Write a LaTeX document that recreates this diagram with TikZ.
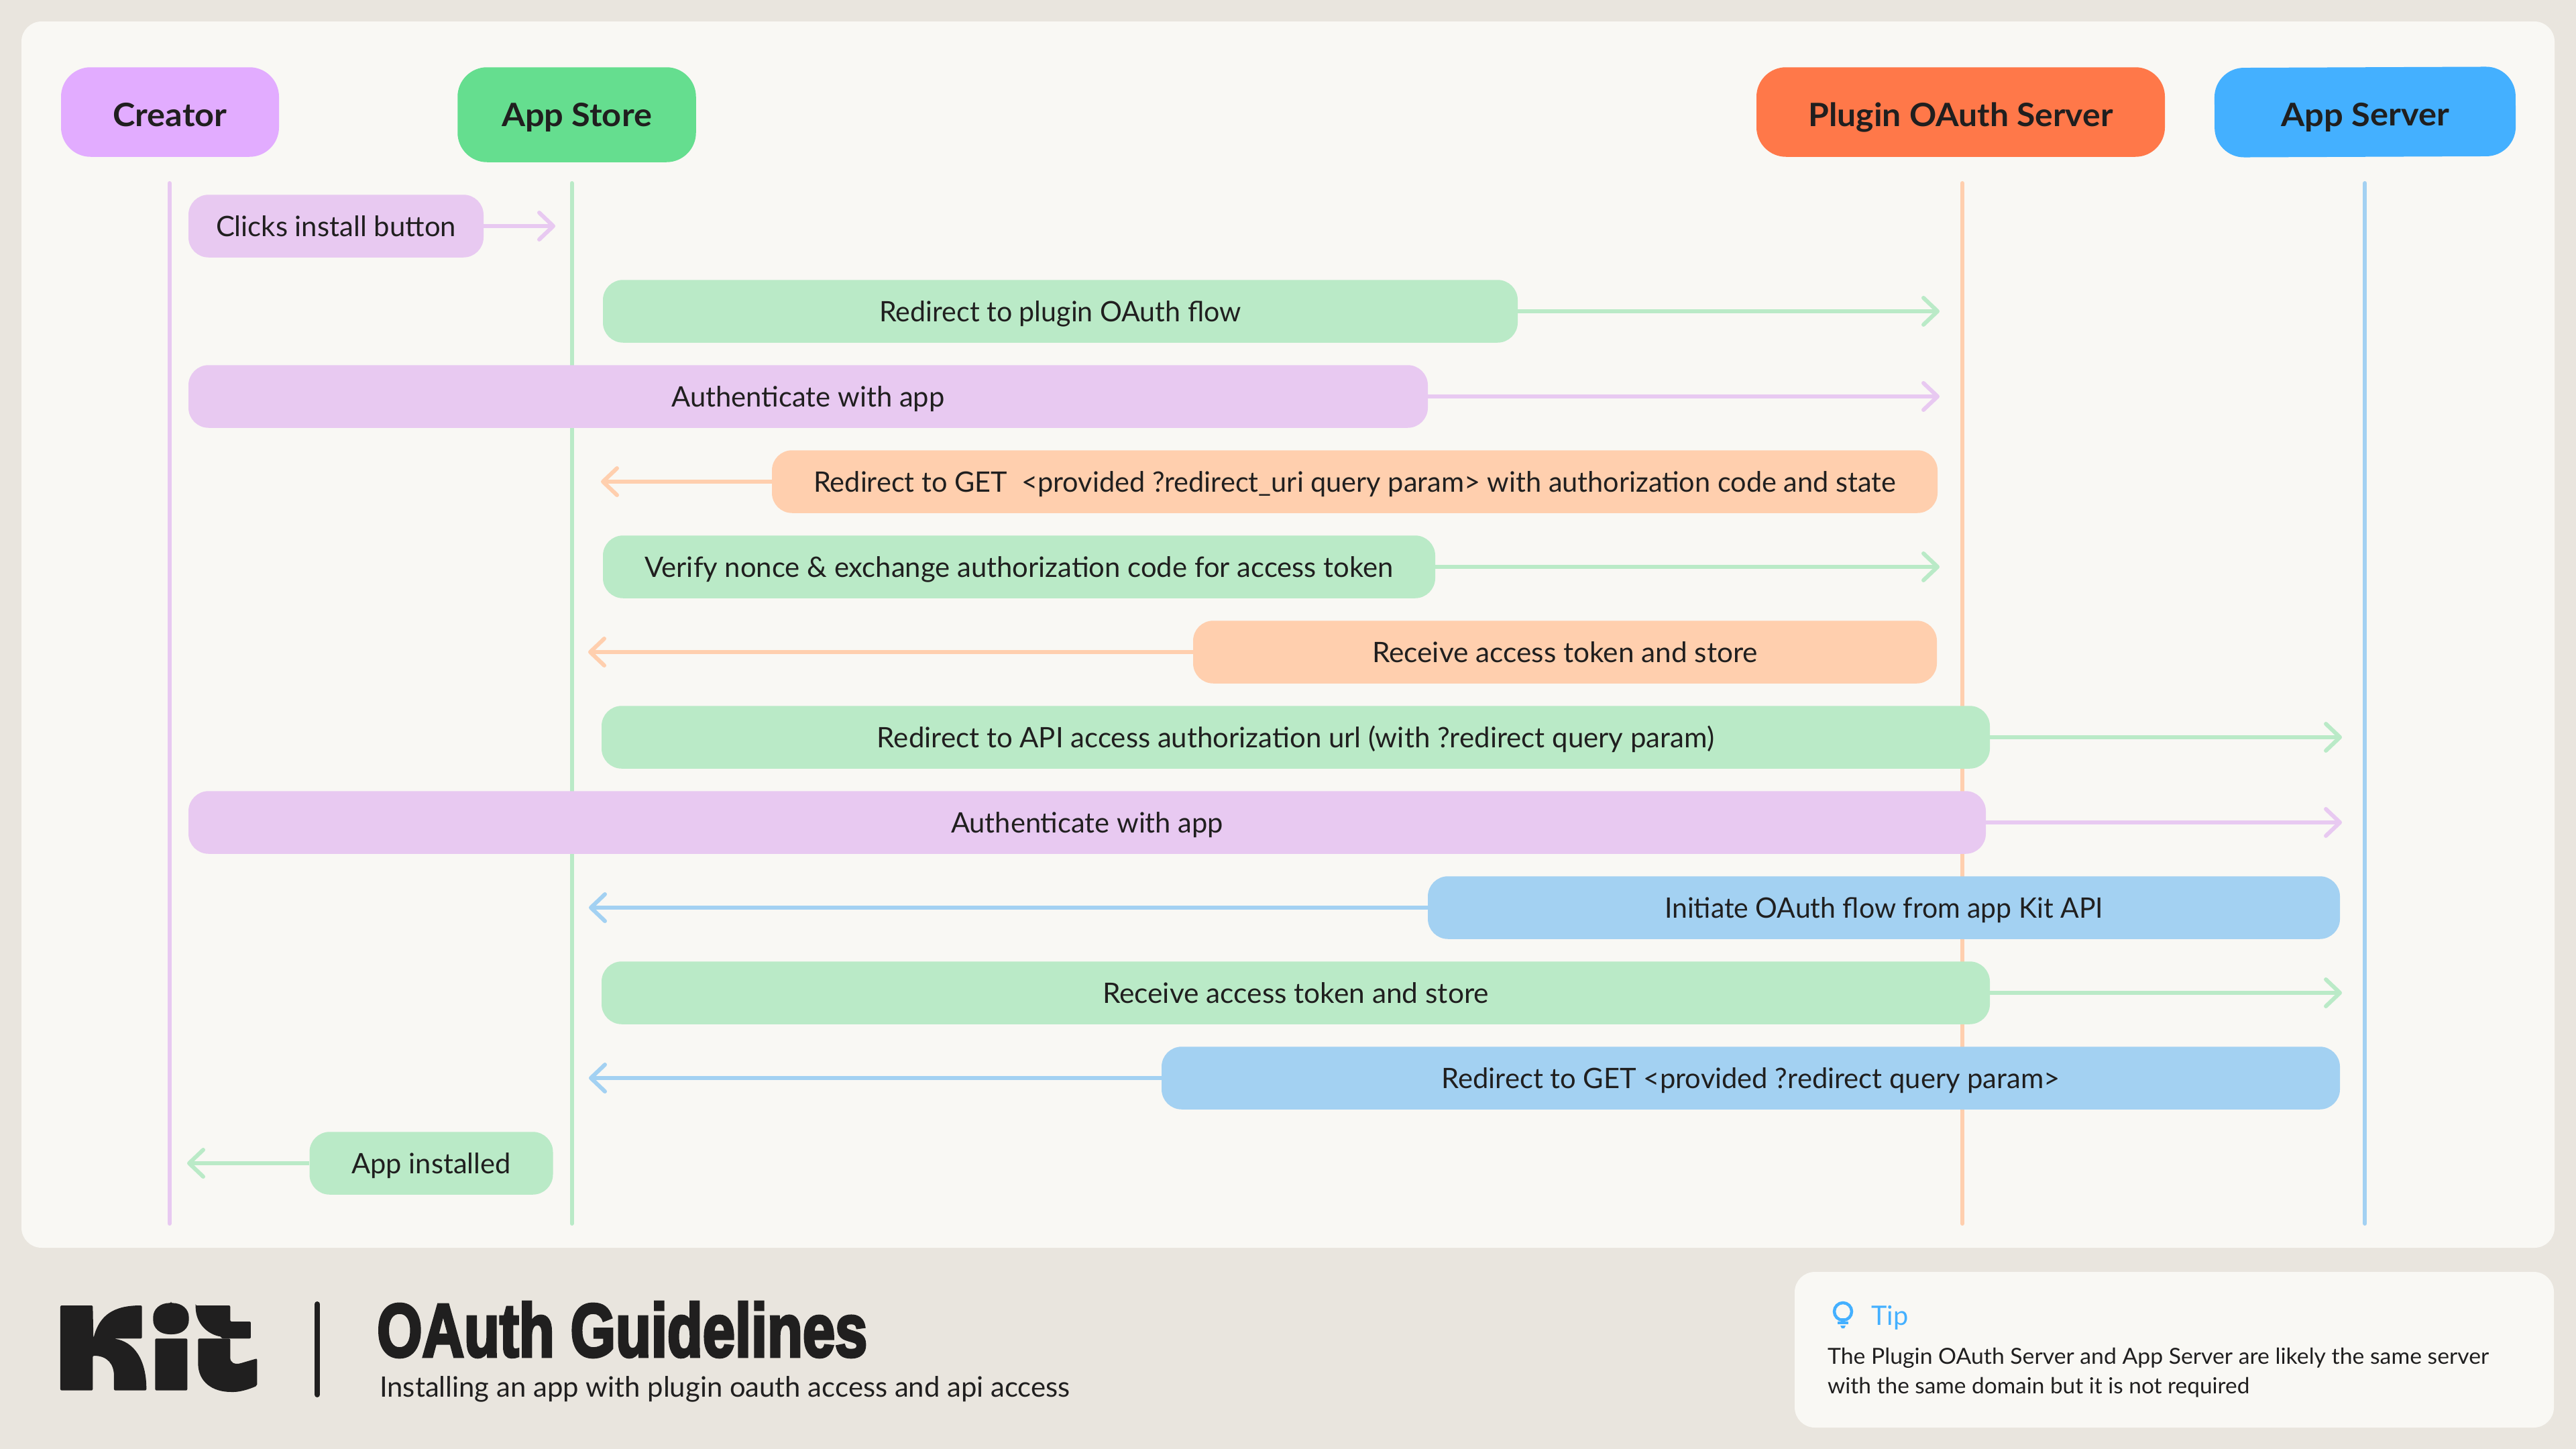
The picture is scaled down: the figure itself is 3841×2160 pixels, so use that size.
\documentclass[tikz,border=0pt]{standalone}
\usepackage{fontspec}
\usepackage{graphicx}
\usetikzlibrary{arrows.meta}
\setmainfont{Lato}
\newfontfamily\titlefont[UprightFont=* Bold,FakeBold=4]{Liberation Sans}
\definecolor{pagebg}{HTML}{E9E5DE}
\definecolor{panelbg}{HTML}{F9F8F4}
\definecolor{ink}{HTML}{201F1F}
\definecolor{hPurple}{HTML}{E2ACFF}
\definecolor{hGreen}{HTML}{65DE8F}
\definecolor{hOrange}{HTML}{FF7849}
\definecolor{hBlue}{HTML}{44B0FF}
\definecolor{mPurple}{HTML}{E8C9F1}
\definecolor{mGreen}{HTML}{BAEAC7}
\definecolor{mOrange}{HTML}{FFCFAE}
\definecolor{mBlue}{HTML}{A3D1F2}
\newcommand{\fitw}[2]{\resizebox{#1pt}{\height}{#2}}
\tikzset{
  header/.style={rounded corners=44pt,inner sep=0pt,text=ink,minimum height=133.5pt,text height=42pt,text depth=0pt,
    font=\fontsize{48pt}{56pt}\selectfont\bfseries},
  msg/.style={rounded corners=30pt,inner sep=0pt,text=ink,minimum height=93.5pt,text height=30pt,text depth=0pt,
    font=\fontsize{42pt}{50pt}\selectfont},
  lifeline/.style={line width=6pt,line cap=round},
  flow/.style={line width=6pt,-{Straight Barb[round,length=21pt,width=40pt]}},
  plain/.style={inner sep=0pt,text=ink}
}
\begin{document}
\begin{tikzpicture}[x=1pt,y=-1pt]
\useasboundingbox (0,0) rectangle (3841,2160);
\fill[pagebg] (0,0) rectangle (3841,2160);
\fill[panelbg,rounded corners=30pt] (32,32) rectangle (3809,1860);
\fill[panelbg,rounded corners=30pt] (2676,1896) rectangle (3808,2128);

% lifelines
\coordinate (l1a) at (252.8,273); \coordinate (l1b) at (252.8,1824);
\coordinate (l2a) at (852.6,273); \coordinate (l2b) at (852.6,1824);
\coordinate (l3a) at (2926,273);  \coordinate (l3b) at (2926,1824);
\coordinate (l4a) at (3526.4,273);\coordinate (l4b) at (3526.4,1824);
\draw[lifeline,mPurple] (l1a) -- (l1b);
\draw[lifeline,mGreen]  (l2a) -- (l2b);
\draw[lifeline,mOrange] (l3a) -- (l3b);
\draw[lifeline,mBlue]   (l4a) -- (l4b);

% headers
\node[header,fill=hPurple,minimum width=325pt] (creator) at (253.5,167) {\fitw{170}{Creator}};
\node[header,fill=hGreen,minimum width=355.5pt,minimum height=141.5pt,text height=34pt] (store) at (860,171) {\fitw{224}{App Store}};
\node[header,fill=hOrange,minimum width=609pt] (oauth) at (2923.5,167) {\fitw{454}{Plugin OAuth Server}};
\node[header,fill=hBlue,minimum width=449pt,rotate=0.25] (server) at (3526.5,167) {\fitw{251}{App Server}};

% messages
\node[msg,fill=mPurple,minimum width=440pt] (r1) at (501,337) {\fitw{358}{Clicks install button}};
\node[msg,fill=mGreen,minimum width=1364pt] (r2) at (1581,464) {\fitw{539}{Redirect to plugin OAuth flow}};
\node[msg,fill=mPurple,minimum width=1848pt] (r3) at (1205,591) {\fitw{407}{Authenticate with app}};
\node[msg,fill=mOrange,minimum width=1738pt] (r4) at (2020,718) {\fitw{1613.5}{Redirect to GET\ \ <provided ?redirect\_uri query param> with authorization code and state}};
\node[msg,fill=mGreen,minimum width=1241pt] (r5) at (1519.5,845) {\fitw{1116}{Verify nonce \& exchange authorization code for access token}};
\node[msg,fill=mOrange,minimum width=1109pt] (r6) at (2333.5,972) {\fitw{575}{Receive access token and store}};
\node[msg,fill=mGreen,minimum width=2070pt] (r7) at (1932,1099) {\fitw{1248}{Redirect to API access authorization url (with ?redirect query param)}};
\node[msg,fill=mPurple,minimum width=2680pt] (r8) at (1621,1226) {\fitw{406}{Authenticate with app}};
\node[msg,fill=mBlue,minimum width=1360pt] (r9) at (2809,1353) {\fitw{654}{Initiate OAuth flow from app Kit API}};
\node[msg,fill=mGreen,minimum width=2070pt] (r10) at (1932,1480) {\fitw{576}{Receive access token and store}};
\node[msg,fill=mBlue,minimum width=1757pt] (r11) at (2610.5,1607) {\fitw{922}{Redirect to GET <provided ?redirect query param>}};
\node[msg,fill=mGreen,minimum width=363pt] (r12) at (643,1734) {\fitw{237}{App installed}};

% arrow ends
\coordinate (t1) at (828,337);
\coordinate (t2) at (2892,464);
\coordinate (t3) at (2892,591);
\coordinate (t4) at (896,718);
\coordinate (t5) at (2892,845);
\coordinate (t6) at (877,972);
\coordinate (t7) at (3492,1099);
\coordinate (t8) at (3492,1226);
\coordinate (t9) at (878,1353);
\coordinate (t10) at (3492,1480);
\coordinate (t11) at (878,1607);
\coordinate (t12) at (279,1734);
\draw[flow,mPurple] (r1.east) -- (t1);
\draw[flow,mGreen]  (r2.east) -- (t2);
\draw[flow,mPurple] (r3.east) -- (t3);
\draw[flow,mOrange] (r4.west) -- (t4);
\draw[flow,mGreen]  (r5.east) -- (t5);
\draw[flow,mOrange] (r6.west) -- (t6);
\draw[flow,mGreen]  (r7.east) -- (t7);
\draw[flow,mPurple] (r8.east) -- (t8);
\draw[flow,mBlue]   (r9.west) -- (t9);
\draw[flow,mGreen]  (r10.east) -- (t10);
\draw[flow,mBlue]   (r11.west) -- (t11);
\draw[flow,mGreen]  (r12.west) -- (t12);

% Kit logo (drawn in zoomed coordinates)
\begin{scope}[shift={(70,1920)},x=0.3333pt,y=-0.3333pt,fill=ink,rounded corners=2pt]
\fill (60,78) -- (205,78) -- (208,225) .. controls (235,120) and (300,78) .. (425,78) -- (425,226) -- (298,226)
  .. controls (390,240) and (445,320) .. (445,458) -- (300,458) -- (300,400)
  .. controls (300,340) and (270,303) .. (205,303) -- (205,458) -- (60,458) -- cycle;
\fill (555,67) .. controls (605,67) and (635,95) .. (635,137) .. controls (635,180) and (605,207) .. (555,207)
  .. controls (505,207) and (475,180) .. (475,137) .. controls (475,95) and (505,67) .. (555,67) -- cycle;
\fill (484,226) rectangle (628,458);
\fill (665,78) -- (820,78) -- (820,150) -- (912,150) -- (912,226) -- (782,226) -- (782,218)
  .. controls (720,208) and (665,160) .. (665,78) -- cycle;
\fill (676,226) -- (820,226) -- (820,305) .. controls (820,335) and (840,342) .. (865,337) -- (940,315) -- (940,437)
  .. controls (900,455) and (860,465) .. (830,465) .. controls (740,465) and (676,420) .. (676,330) -- cycle;
\end{scope}
\draw[ink,line width=8pt,line cap=round] (473,1944) -- (473,2079);

% title block
\node[plain,anchor=base west,font=\titlefont\fontsize{112pt}{120pt}\selectfont] (title) at (562,2022) {\fitw{731}{OAuth Guidelines}};
\node[plain,anchor=base west,font=\fontsize{42pt}{50pt}\selectfont] (subtitle) at (566,2082) {\fitw{1029}{Installing an app with plugin oauth access and api access}};

% tip
\draw[hBlue,line width=4.5pt] (2748,1955) circle[radius=13];
\fill[hBlue] (2742,1965) rectangle (2754,1969);
\fill[hBlue] (2740,1970) rectangle (2756,1974);
\fill[hBlue] (2744,1976) -- (2752,1976) -- (2750,1980) -- (2746,1980) -- cycle;
\node[plain,anchor=base west,text=hBlue,font=\fontsize{40pt}{48pt}\selectfont] (tiphead) at (2790,1975) {\fitw{55}{Tip}};
\node[plain,anchor=base west,font=\fontsize{33pt}{40pt}\selectfont] (tip1) at (2725,2033) {\fitw{986}{The Plugin OAuth Server and App Server are likely the same server}};
\node[plain,anchor=base west,font=\fontsize{33pt}{40pt}\selectfont] (tip2) at (2725,2077) {\fitw{629}{with the same domain but it is not required}};
\end{tikzpicture}
\end{document}
